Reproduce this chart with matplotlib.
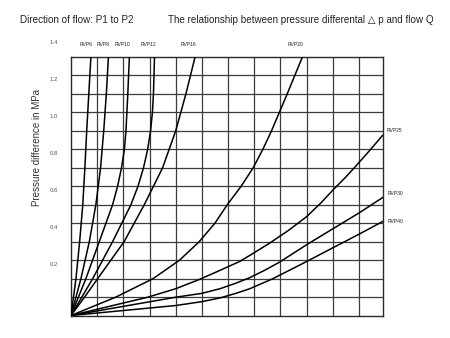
import numpy as np
import matplotlib
matplotlib.use("Agg")
import matplotlib.pyplot as plt
import matplotlib.transforms as mtransforms

plt.rcParams['font.family'] = ['Liberation Sans', 'DejaVu Sans']

# flow Q (10 per grid cell) and pressure difference in MPa, read per valve size
rvp6_q = [0, 1.9, 3.3, 4.5, 5.3, 6.0, 6.8, 7.6]
rvp6_p = [0, 0.2, 0.4, 0.6, 0.8, 1.0, 1.2, 1.4]
rvp8_q = [0, 3.8, 7.0, 9.5, 11.3, 12.5, 13.5, 14.3]
rvp8_p = [0, 0.2, 0.4, 0.6, 0.8, 1.0, 1.2, 1.4]
rvp10_q = [0, 5.7, 10.8, 15.9, 17.8, 19.3, 20.4, 21.0, 21.7, 22.3]
rvp10_p = [0, 0.2, 0.4, 0.6, 0.7, 0.8, 0.9, 1.0, 1.2, 1.4]
rvp12_q = [0, 8.3, 15.9, 22.9, 25.6, 27.7, 29.3, 30.4, 31.1, 31.5, 31.9]
rvp12_p = [0, 0.2, 0.4, 0.6, 0.7, 0.8, 0.9, 1.0, 1.1, 1.2, 1.4]
rvp16_q = [0, 5.2, 10.2, 20.3, 28.0, 35.0, 40.0, 43.9, 47.4]
rvp16_p = [0, 0.1, 0.2, 0.4, 0.6, 0.8, 1.0, 1.2, 1.4]
rvp20_q = [0, 17.2, 31.4, 41.5, 49.0, 55.0, 59.7, 65.0, 69.6, 73.3, 76.6,
           79.6, 82.6, 85.5, 88.4]
rvp20_p = [0, 0.1, 0.2, 0.3, 0.4, 0.5, 0.6, 0.7, 0.8, 0.9, 1.0,
           1.1, 1.2, 1.3, 1.4]
rvp25_q = [0, 29.3, 40, 49, 57, 64.5, 70, 76, 83, 90, 95.5, 100.1, 105,
           109.5, 114.5, 119]
rvp25_p = [0, 0.099, 0.145, 0.195, 0.245, 0.293, 0.34, 0.393, 0.46, 0.535,
           0.61, 0.68, 0.75, 0.82, 0.9, 0.975]
rvp30_q = [0, 40, 50, 56.9, 63, 68.3, 74, 79.8, 90.2, 100.1, 110, 119.2]
rvp30_p = [0, 0.099, 0.12, 0.145, 0.175, 0.205, 0.245, 0.29, 0.385, 0.47,
           0.555, 0.64]
rvp40_q = [0, 40, 50, 56.9, 63, 68.3, 77.2, 89, 100.5, 110, 119.2]
rvp40_p = [0, 0.054, 0.075, 0.095, 0.12, 0.145, 0.2, 0.285, 0.37, 0.44, 0.51]

top_names = ['RVP6', 'RVP8', 'RVP10', 'RVP12', 'RVP16', 'RVP20']
side_names = ['RVP25', 'RVP30', 'RVP40']
tick_values = [1.4, 1.2, 1.0, 0.8, 0.6, 0.4, 0.2]

top_curves = [(rvp6_q, rvp6_p), (rvp8_q, rvp8_p), (rvp10_q, rvp10_p),
              (rvp12_q, rvp12_p), (rvp16_q, rvp16_p), (rvp20_q, rvp20_p)]
side_curves = [(rvp25_q, rvp25_p), (rvp30_q, rvp30_p), (rvp40_q, rvp40_p)]

fig = plt.figure(figsize=(4.5, 3.38), dpi=100)
ax = fig.add_axes([71 / 450, 1 - 315.5 / 338, 312 / 450, 258.5 / 338])
ax.set_xlim(0, 119.2)
ax.set_ylim(0, 1.4)

# grid: one cell = 10 flow units by 0.1 MPa
for q in np.arange(10, 119, 10):
    ax.axvline(q, color='#3c3c3c', lw=0.9, zorder=1)
for p in np.arange(0.1, 1.39, 0.1):
    ax.axhline(p, color='#3c3c3c', lw=0.9, zorder=1)
for s in ax.spines.values():
    s.set_color('#2a2a2a')
    s.set_linewidth(1.0)
ax.set_xticks([])
ax.set_yticks([])

for (q, p), name in zip(top_curves, top_names):
    ax.plot(q, p, color='black', lw=1.1, zorder=3, solid_joinstyle='round')
    ax.annotate(name, (q[-1], p[-1]), xytext=(1, 7), textcoords='offset points',
                ha='right', va='bottom', fontsize=3.6, color='#222222',
                annotation_clip=False)

side_offsets = [(3, 3.5), (3, 3), (3, 0)]
for (q, p), name, off in zip(side_curves, side_names, side_offsets):
    ax.plot(q, p, color='black', lw=1.1, zorder=3, solid_joinstyle='round')
    ax.annotate(name, (q[-1], p[-1]), xytext=off, textcoords='offset points',
                ha='left', va='center', fontsize=3.6, color='#222222',
                annotation_clip=False)

# value labels sit a little above their grid lines
lab_trans = mtransforms.offset_copy(ax.get_yaxis_transform(), fig=fig,
                                    x=0, y=14.5, units='dots')
for v in tick_values:
    ax.text(-0.042, v, f'{v:.1f}', transform=lab_trans, ha='right', va='center',
            fontsize=4.3, color='#555555', clip_on=False)

fig.text(37 / 450, 1 - 147 / 338, 'Pressure difference in MPa', rotation=90,
         ha='center', va='center', fontsize=7.0, color='#333333')
fig.text(20 / 450, 1 - 20 / 338, 'Direction of flow: P1 to P2',
         ha='left', va='center', fontsize=7.1, color='#222222')
fig.text(168 / 450, 1 - 20 / 338,
         'The relationship between pressure differental \u25b3 p and flow Q',
         ha='left', va='center', fontsize=7.1, color='#222222')

fig.savefig('out.png', dpi=100)
